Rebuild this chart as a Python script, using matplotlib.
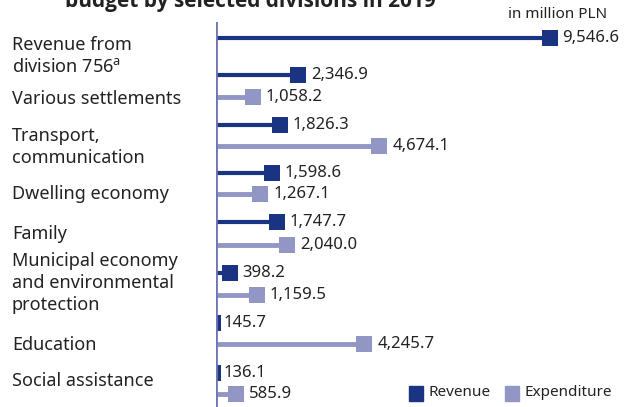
import numpy as np
import matplotlib.pyplot as plt

plt.rcParams['font.family'] = ['Noto Sans', 'DejaVu Sans']
plt.rcParams['mathtext.fontset'] = 'custom'
plt.rcParams['mathtext.rm'] = 'Noto Sans'

# === data ===
categories = ['Revenue from\ndivision 756$^{\\mathrm{a}}$', 'Various settlements',
              'Transport,\ncommunication', 'Dwelling economy', 'Family',
              'Municipal economy\nand environmental\nprotection', 'Education',
              'Social assistance']
revenue = [9546.6, 2346.9, 1826.3, 1598.6, 1747.7, 398.2, 145.7, 136.1]
expenditure = [None, 1058.2, 4674.1, 1267.1, 2040.0, 1159.5, 4245.7, 585.9]

# layout (pixel rows, y axis runs downward)
rev_y = [38, 75, 125, 173, 222, 273, 323, 373]
exp_y = [None, 97, 146, 194, 245, 295, 344, 394]
lab_y = [56, 99, 147, 194, 234, 283, 345, 381]

c_rev = '#1b3383'
c_exp = '#9196c5'
c_axis = '#7075b5'
c_text = '#222222'

px = 0.03495          # pixels per million PLN
half = 8 / px         # half a marker, in data units


def fmt(v):
    return f'{v:,.1f}'


fig = plt.figure(figsize=(6.37, 4.07), dpi=100)
ax = fig.add_axes([216 / 637, 0, (637 - 216) / 637, (407 - 22) / 407])
ax.set_xlim(0, (637 - 216) / px)
ax.set_ylim(407, 22)
ax.axis('off')
ax.axvline(0, color=c_axis, lw=2, zorder=4)


def draw(vals, ys, color, lw):
    for v, y in zip(vals, ys):
        if v is None:
            continue
        ax.plot([0, v], [y, y], color=color, lw=lw, solid_capstyle='butt', zorder=2)
        if v < half:
            # marker squeezed against the axis
            ax.barh(y, v, height=16, color=color, zorder=3)
            anchor, off = v, 2
        else:
            left = max(0, v - half)
            ax.barh(y, v + half - left, left=left, height=16, color=color, zorder=3)
            anchor, off = v + half, 3.5
        ax.annotate(fmt(v), (anchor, y), xytext=(off, 0), textcoords='offset points',
                    va='center', ha='left', fontsize=12, color=c_text)


draw(revenue, rev_y, c_rev, 3)
draw(expenditure, exp_y, c_exp, 3.5)

for lab, y in zip(categories, lab_y):
    fig.text(12 / 637, 1 - y / 407, lab, ha='left', va='center', fontsize=13,
             color=c_text, linespacing=1.25)

# title (cut off at top in the original) and unit note
fig.text(250 / 637, 1 - 7 / 407, 'budget by selected divisions in 2019', ha='center',
         va='baseline', fontsize=15, fontweight='bold', color=c_text,
         family=['Open Sans', 'DejaVu Sans'])
fig.text(607 / 637, 1 - 14 / 407, 'in million PLN', ha='right', va='center',
         fontsize=11, color=c_text)

# legend
fig.patches.append(plt.Rectangle((409 / 637, 1 - 401 / 407), 14 / 637, 15 / 407,
                                 transform=fig.transFigure, color=c_rev))
fig.text(429 / 637, 1 - 393 / 407, 'Revenue', va='center', fontsize=11, color=c_text)
fig.patches.append(plt.Rectangle((505 / 637, 1 - 401 / 407), 14 / 637, 15 / 407,
                                 transform=fig.transFigure, color=c_exp))
fig.text(525 / 637, 1 - 393 / 407, 'Expenditure', va='center', fontsize=11, color=c_text)

fig.savefig('out.png', dpi=100)
